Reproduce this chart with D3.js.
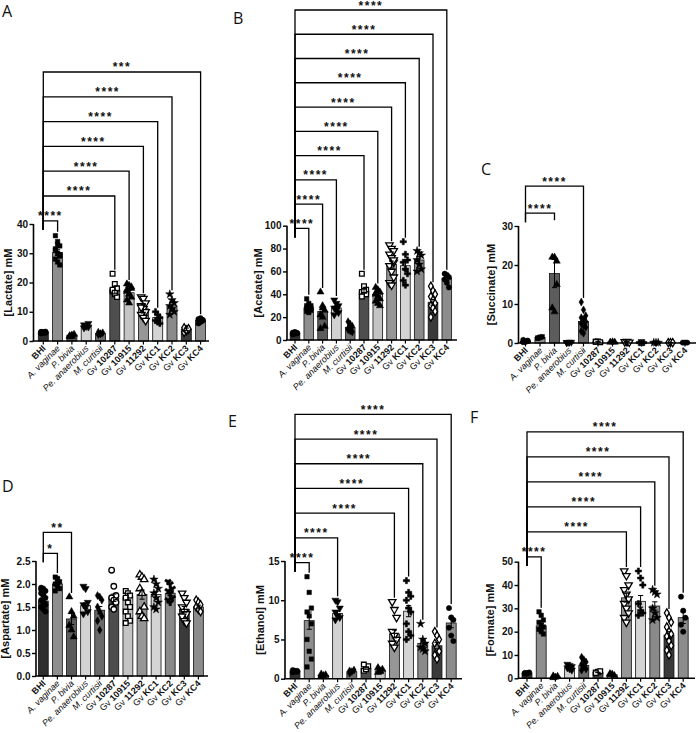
<!DOCTYPE html>
<html><head><meta charset="utf-8">
<script src="https://cdn.jsdelivr.net/npm/d3@7"></script>
<style>body{margin:0;background:#fff}</style>
</head><body><svg id="c" width="696" height="733"></svg>
<script>
const categories = ["BHI","A. vaginae","P. bivia","Pe. anaerobius","M. curtisii","Gv 10287","Gv 10915","Gv 11292","Gv KC1","Gv KC2","Gv KC3","Gv KC4"];
const barColors = ["#2e2e2e","#8e8e8e","#5c5c5c","#d2d2d2","#6a6a6a","#4e4e4e","#c4c4c4","#969696","#d4d4d4","#8a8a8a","#3a3a3a","#8c8c8c"];

// Panel A: Lactate
const lactateMean = [3.0,30.2,2.0,5.2,2.6,17.5,16.5,11.0,8.0,12.0,4.0,7.0];
const lactateSem  = [0.15,1.0,0.2,0.4,0.2,1.2,0.8,1.4,1.0,1.2,0.4,0.5];
const lactatePoints = [
  [2.6,2.8,3.0,3.1,2.9,3.2,2.7,3.0,2.8,3.1],
  [36,34,32.5,31,30,29,28,27,26,31.5,33,29.5],
  [1.5,2.0,2.3,1.8,1.6],
  [4.5,5.0,6.0,5.5,5.2,4.8],
  [2.2,2.5,2.8,3.0,2.4],
  [23,19.5,18,17,16,15,17.5,16.5],
  [19.5,19,18,17,16,15,14,13,18.5,17.5,16],
  [15,14.5,13,12,11,10,9,8,7,11.5],
  [10,9,8,7,6.5,6],
  [16,14,13,12,11,10,9],
  [3.0,3.5,4.0,4.5,3.8,4.2],
  [6.0,6.5,7.0,7.5,7.8,7.2]
];
const lactateTicks = [0,10,20,30,40];
const lactateBrackets = [[0,1,"****"],[0,5,"****"],[0,6,"****"],[0,7,"****"],[0,8,"****"],[0,9,"****"],[0,11,"***"]];

// Panel B: Acetate
const acetateMean = [6,28,25,28,11,43,40,66,65,70,33,54];
const acetateSem  = [0.4,1.2,4.5,2.0,1.2,1.5,1.2,3.0,4.0,3.0,2.5,2.0];
const acetatePoints = [
  [5,5.5,6,6.5,7,6,5.8],
  [36,32,30,28,27,26,25,24,28,30],
  [42,28,26,22,20,12,10,30],
  [35,32,30,28,26,24,22,27],
  [16,14,12,10,8,7,9,11],
  [58,47,44,42,41,40,38,43],
  [46,44,42,40,38,36,34,32,30,41,43],
  [83,80,78,75,72,68,65,60,55,50,48,70],
  [86,75,70,68,62,58,52,48],
  [78,76,74,70,66,62,60],
  [47,43,40,38,35,32,30,28,25,20],
  [58,57,55,53,50,46]
];
const acetateTicks = [0,20,40,60,80,100];
const acetateBrackets = [[0,1,"****"],[0,2,"****"],[0,3,"****"],[0,5,"****"],[0,6,"****"],[0,7,"****"],[0,8,"****"],[0,9,"****"],[0,10,"****"],[0,11,"****"]];

// Panel C: Succinate
const succinateMean = [0.4,1.4,17.8,0.2,5.5,0.3,0.2,0.3,0.1,0.1,0.1,0.1];
const succinateSem  = [0.1,0.15,3.6,0.05,0.8,0.05,0.05,0.05,0.02,0.02,0.02,0.02];
const succinatePoints = [
  [0.2,0.4,0.6,0.8,0.3,0.5],
  [1.2,1.4,1.6,1.3,1.5],
  [22,22,15,9,8,21],
  [0.1,0.2,0.2,0.1],
  [10.5,8.5,7,6.5,6,5.5,5,4.5,4,3,2.5],
  [0.3,0.4,0.2,0.3],
  [0.2,0.3,0.2],
  [0.3,0.4,0.2],
  [0.1,0.1,0.1],
  [0.1,0.1,0.1],
  [0.1,0.1,0.1],
  [0.1,0.1,0.1]
];
const succinateTicks = [0,10,20,30];
const succinateBrackets = [[0,2,"****",31.5],[0,4,"****"]];

// Panel D: Aspartate
const aspartateMean = [1.63,2.0,1.24,1.53,1.43,1.7,1.72,1.77,1.77,1.8,1.45,1.5];
const aspartateSem  = [0.03,0.04,0.12,0.06,0.08,0.08,0.07,0.1,0.07,0.05,0.06,0.04];
const aspartatePoints = [
  [1.92,1.9,1.85,1.8,1.75,1.7,1.65,1.6,1.55,1.5,1.45,1.4,1.88,1.78],
  [2.15,2.1,2.05,2.0,1.95,1.9,1.85,2.12],
  [1.72,1.4,1.3,1.1,1.0,0.85],
  [1.95,1.9,1.6,1.55,1.5,1.4,1.35],
  [1.75,1.72,1.65,1.5,1.4,1.3,1.2,1.0],
  [2.3,1.95,1.75,1.7,1.65,1.6,1.5,1.45],
  [1.85,1.8,1.75,1.7,1.6,1.5,1.4,1.3,1.2,1.15],
  [2.2,2.15,2.1,1.9,1.8,1.5,1.4,1.3,1.25],
  [2.1,2.0,1.9,1.8,1.7,1.6,1.5,1.45],
  [2.05,2.0,1.9,1.85,1.8,1.7,1.65,1.6],
  [1.8,1.7,1.6,1.5,1.4,1.35,1.3,1.2,1.15],
  [1.65,1.6,1.55,1.5,1.45,1.4]
];
const aspartateTicks = [0,0.5,1.0,1.5,2.0,2.5];
const aspartateBrackets = [[0,1,"*"],[0,2,"**"]];

// Panel E: Ethanol
const ethanolMean = [1.0,7.4,0.4,8.3,0.9,1.3,1.0,5.7,8.6,4.5,4.2,7.1];
const ethanolSem  = [0.05,1.1,0.05,0.3,0.1,0.1,0.1,0.5,0.7,0.4,0.4,0.6];
const ethanolPoints = [
  [0.8,0.9,1.0,1.1,1.0,0.9],
  [13,11,9,8.5,8,7,5,3.5,2.5,1.5],
  [0.3,0.4,0.5,0.6],
  [10,9.8,9,8.5,8,7.8,7.5],
  [0.7,0.9,1.1,1.0],
  [1.0,1.3,1.6,1.8,1.2],
  [0.8,1.0,1.2,1.4,0.9],
  [9.8,8.8,7.8,6,5.5,5,4.5,4],
  [12.5,11,10.5,10,9,8.5,7,6,5.5,5],
  [7,5,4.5,4,3.8,3.5],
  [6,5.5,5,4.5,4,3.5,3,2.5],
  [9,7.8,7.5,6.5,5.5,4.8]
];
const ethanolTicks = [0,5,10,15];
const ethanolBrackets = [[0,1,"****"],[0,3,"****"],[0,7,"****"],[0,8,"****"],[0,9,"****"],[0,10,"****"],[0,11,"****"]];

// Panel F: Formate
const formateMean = [2.2,22.5,0.5,4.5,5.5,2.5,1.5,34.5,33,31,18.5,26];
const formateSem  = [0.1,1.0,0.1,0.4,0.7,0.1,0.1,1.8,2.5,1.8,1.5,2.5];
const formatePoints = [
  [2,2.2,2.5,2.3,2.1],
  [28.5,27,25,24,23,22,21,20,19],
  [0.3,0.5,0.8,1],
  [6,5.5,5,4.5,4,3.5],
  [9,8,7,6,5,4,3.5],
  [2.5,2.8,3,2.2],
  [1.5,1.8,1.2,2],
  [46,44,40,38,36,34,32,30,28,26,24],
  [46,43,40,32,29,28,27],
  [38,37,36,30,28,26,25],
  [28,26,24,22,20,19,18,16,14,12,10],
  [35,29,26,23,20]
];
const formateTicks = [0,10,20,30,40,50];
const formateBrackets = [[0,1,"****"],[0,7,"****"],[0,8,"****"],[0,9,"****"],[0,10,"****"],[0,11,"****"]];

const shapesMain = ["circle","square","triangle","triangleDown","diamond","squareOpen","triangle","triangleDownOpen","cross","star","diamondOpen","circle"];
const shapesD    = ["circle","square","triangle","triangleDown","diamond","circleOpen","squareOpen","triangleOpen","star","wye","triangleDownOpen","diamondOpen"];

const panels = [
  {letter:"A", lx:2, ly:17, title:"[Lactate] mM", tx:12, mean:lactateMean, sem:lactateSem, pts:lactatePoints, ticks:lactateTicks, fmt:d3.format("d"),
   br:lactateBrackets, brBase:41.1, brStep:24.8, axisX:33.5, axisEnd:209, yTop:224, yBot:341, first:43.3, step:14.3, shapes:shapesMain},
  {letter:"B", lx:233, ly:24, title:"[Acetate] mM", tx:262, mean:acetateMean, sem:acetateSem, pts:acetatePoints, ticks:acetateTicks, fmt:d3.format("d"),
   br:acetateBrackets, brBase:97.7, brStep:24.26, axisX:287, axisEnd:457, yTop:225.7, yBot:340, first:295, step:13.8, shapes:shapesMain},
  {letter:"C", lx:481, ly:175, title:"[Succinate] mM", tx:495, mean:succinateMean, sem:succinateSem, pts:succinatePoints, ticks:succinateTicks, fmt:d3.format("d"),
   br:succinateBrackets, brBase:33.3, brStep:27, axisX:518.5, axisEnd:696, yTop:226, yBot:343, first:525.5, step:14.5, shapes:shapesMain},
  {letter:"D", lx:2, ly:492, title:"[Aspartate] mM", tx:9, mean:aspartateMean, sem:aspartateSem, pts:aspartatePoints, ticks:aspartateTicks, fmt:d3.format(".1f"),
   br:aspartateBrackets, brBase:2.667, brStep:21, axisX:36, axisEnd:208, yTop:561, yBot:676, first:43.3, step:14.1, shapes:shapesD},
  {letter:"E", lx:228, ly:427, title:"[Ethanol] mM", tx:264, mean:ethanolMean, sem:ethanolSem, pts:ethanolPoints, ticks:ethanolTicks, fmt:d3.format("d"),
   br:ethanolBrackets, brBase:14.8, brStep:24.7, axisX:285, axisEnd:462, yTop:561, yBot:678.7, first:295, step:14.2, shapes:shapesMain},
  {letter:"F", lx:470, ly:423, title:"[Formate] mM", tx:494, mean:formateMean, sem:formateSem, pts:formatePoints, ticks:formateTicks, fmt:d3.format("d"),
   br:formateBrackets, brBase:52.1, brStep:25, axisX:518.5, axisEnd:695, yTop:561.7, yBot:678.3, first:527, step:14.2, shapes:shapesMain}
];

const svg = d3.select("#c");
const FONT = "Arial, 'Liberation Sans', sans-serif";

function symbolPath(kind){
  const open = kind.endsWith("Open");
  const base = open ? kind.slice(0,-4) : kind;
  const map = {circle:d3.symbolCircle, square:d3.symbolSquare, triangle:d3.symbolTriangle, triangleDown:d3.symbolTriangle,
    diamond:d3.symbolDiamond, cross:d3.symbolCross, star:d3.symbolStar, wye:d3.symbolWye};
  const size = base==="square" ? 20 : base==="circle" ? 22 : base==="diamond" ? 18 : 22;
  return {d:d3.symbol(map[base], open ? size*1.1 : size)(), open, rot: base==="triangleDown" ? 180 : 0};
}

panels.forEach(p => {
  const g = svg.append("g");
  const lastDomain = p.ticks[p.ticks.length-1];
  const y = d3.scaleLinear().domain([0,lastDomain]).range([p.yBot,p.yTop]);
  const x = d3.scaleBand().domain(categories)
    .range([p.first - p.step/2, p.first + p.step*(categories.length-0.5)]).paddingInner(0.3).paddingOuter(0.15);
  const cx = c => x(c) + x.bandwidth()/2;

  // bars
  g.selectAll("rect.bar").data(categories).join("rect")
    .attr("x", c => x(c)).attr("width", x.bandwidth())
    .attr("y", (c,i) => y(p.mean[i])).attr("height", (c,i) => p.yBot - y(p.mean[i]))
    .attr("fill", (c,i) => barColors[i]).attr("stroke","#111").attr("stroke-width",0.8);

  // points
  categories.forEach((c,i) => {
    const sp = symbolPath(p.shapes[i]);
    const vals = p.pts[i];
    vals.forEach((v,j) => {
      const off = ((j%3)-1) * x.bandwidth()*0.22;
      g.append("path").attr("d", sp.d)
        .attr("transform", `translate(${cx(c)+off},${y(v)}) rotate(${sp.rot})`)
        .attr("fill", sp.open ? "#fff" : "#000")
        .attr("stroke", "#000").attr("stroke-width", sp.open ? 1.3 : 0.5);
    });
  });

  // error bars
  categories.forEach((c,i) => {
    const m = p.mean[i], s = p.sem[i];
    const x0 = cx(c), cap = 2.6;
    const lo = Math.max(0, m - s);
    g.append("path").attr("d", `M${x0},${y(lo)}V${y(m+s)}M${x0-cap},${y(m+s)}H${x0+cap}M${x0-cap},${y(lo)}H${x0+cap}`)
      .attr("stroke","#000").attr("stroke-width",1).attr("fill","none");
  });

  // y axis
  const ya = d3.axisLeft(y).tickValues(p.ticks).tickFormat(p.fmt).tickSize(4).tickPadding(1.5);
  const yg = g.append("g").attr("transform",`translate(${p.axisX},0)`).call(ya);
  yg.select(".domain").attr("stroke","#000").attr("stroke-width",1.6).attr("d",`M0,${p.yBot}V${p.yTop}`);
  yg.selectAll(".tick line").attr("stroke","#000").attr("stroke-width",1.4);
  yg.selectAll(".tick text").attr("font-family",FONT).attr("font-weight","bold").attr("font-size",10).attr("fill","#111");

  // x axis line + ticks
  g.append("line").attr("x1",p.axisX-0.8).attr("x2",p.axisEnd).attr("y1",p.yBot).attr("y2",p.yBot)
    .attr("stroke","#000").attr("stroke-width",1.6);
  g.selectAll("line.xt").data(categories).join("line")
    .attr("x1",c=>cx(c)).attr("x2",c=>cx(c)).attr("y1",p.yBot).attr("y2",p.yBot+3.5)
    .attr("stroke","#000").attr("stroke-width",1.2);

  // x labels
  categories.forEach((c,i) => {
    const t = g.append("text").attr("font-family",FONT).attr("font-size",9).attr("fill","#111")
      .attr("text-anchor","end")
      .attr("transform",`translate(${cx(c)+3},${p.yBot+8}) rotate(-45)`);
    if (c === "BHI") t.append("tspan").attr("font-weight","bold").text(c);
    else if (c.startsWith("Gv ")) {
      t.append("tspan").text("Gv ");
      t.append("tspan").attr("font-weight","bold").text(c.slice(3));
    } else t.append("tspan").attr("font-style","italic").text(c);
  });

  // y title
  g.append("text").attr("font-family",FONT).attr("font-weight","bold").attr("font-size",11)
    .attr("text-anchor","middle").attr("fill","#111")
    .attr("transform",`translate(${p.tx},${(p.yTop+p.yBot)/2}) rotate(-90)`)
    .text(p.title);

  // panel letter
  g.append("text").attr("x",p.lx).attr("y",p.ly).attr("font-family","'Open Sans', 'Noto Sans', sans-serif")
    .attr("font-size",16).attr("fill","#111").text(p.letter);

  // brackets
  const baseY = y(p.brBase);
  const innerLeft = baseY + 9;
  p.br.forEach((b,k) => {
    const [a, t, label, legVal] = b;
    const by = baseY - k*p.brStep;
    const xa = cx(categories[a]), xb = cx(categories[t]);
    const top = legVal !== undefined ? y(legVal) : y(d3.max(p.pts[t])) - 4;
    g.append("path").attr("d",`M${xa},${innerLeft}V${by}H${xb}V${top}`)
      .attr("fill","none").attr("stroke","#000").attr("stroke-width",1.3);
    g.append("text").attr("x",(xa+xb)/2).attr("y",by-0.5).attr("text-anchor","middle")
      .attr("font-family",FONT).attr("font-weight","bold").attr("font-size",12).attr("letter-spacing","1.5px")
      .attr("fill","#111").text(label);
  });
});
</script></body></html>
